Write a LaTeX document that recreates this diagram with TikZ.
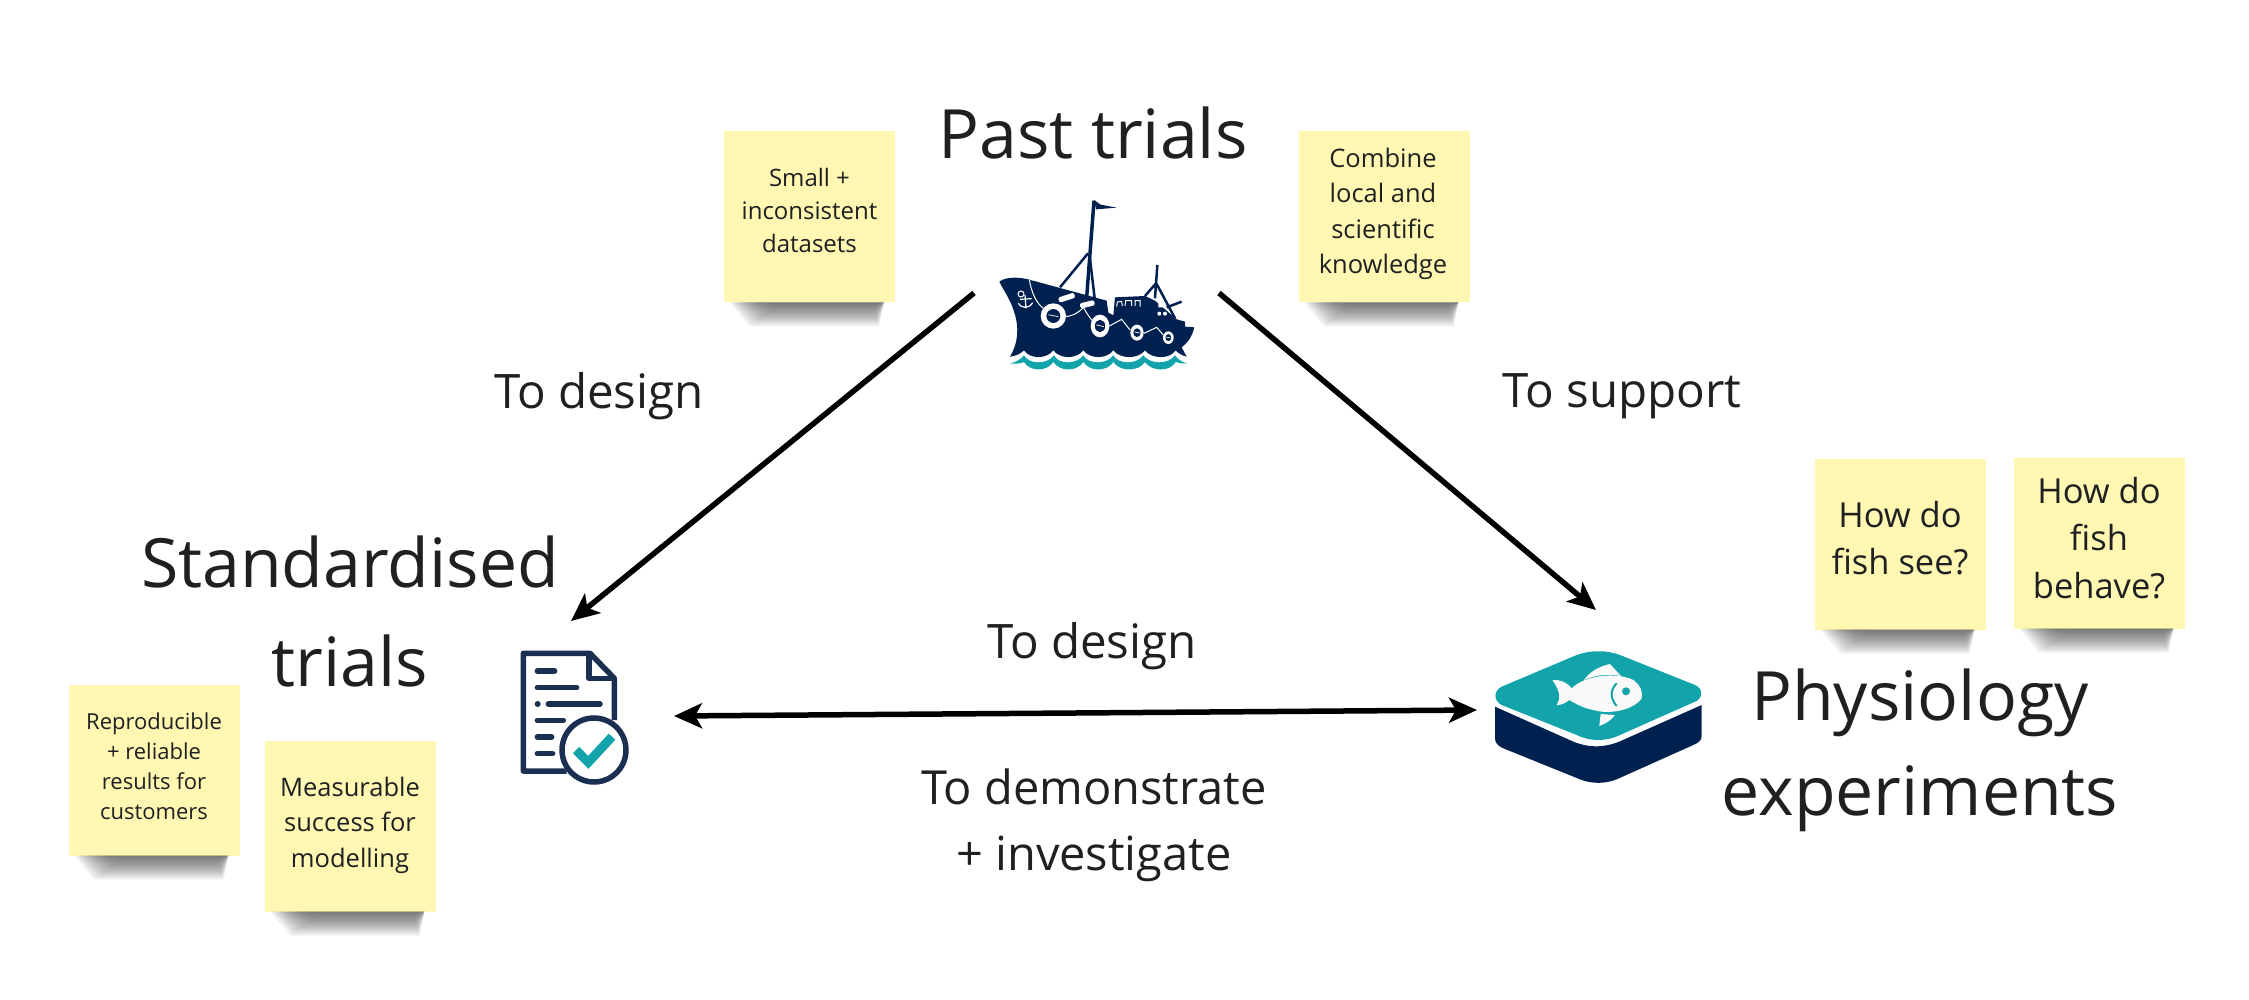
\documentclass[tikz,border=0pt]{standalone}
\usepackage{fontspec}
\setmainfont{Open Sans}
\usetikzlibrary{calc, arrows.meta}
\definecolor{navy}{HTML}{00204F}
\definecolor{teal2}{HTML}{12A4AA}
\definecolor{docblue}{HTML}{1B2F52}
\definecolor{notefill}{HTML}{FFF7B2}
\definecolor{inkdark}{HTML}{1E2022}
\newcommand\fsize[1]{\fontsize{#1}{#1}\selectfont}
\newcommand\noteshadow[1]{
  \foreach \i in {0,...,11}{
    \fill[black,opacity=0.06] ($(#1.south west)+(6+\i*2.5,0)$) -- ($(#1.south east)+(-11,0)$)
      -- ($(#1.south east)+(-16-\i*0.6,24-\i*2)$) -- ($(#1.south west)+(26+\i*2.5,24-\i*2)$) -- cycle;
  }
}
\tikzset{
  note/.style={fill=notefill,minimum width=171pt,minimum height=171pt,inner sep=0pt,outer sep=0pt},
  notetext/.style={align=center,text=inkdark,inner sep=0pt},
  title/.style={align=center,text=inkdark,font=\fsize{68}},
  linklabel/.style={align=center,text=inkdark,font=\fsize{47.5}},
  icon/.style={inner sep=0pt,outer sep=0pt},
  link/.style={line width=5.5pt,black,-{Stealth[length=28pt,width=25pt,inset=7pt]}},
  bilink/.style={line width=5.5pt,black,{Stealth[length=28pt,width=25pt,inset=7pt]}-{Stealth[length=28pt,width=25pt,inset=7pt]}},
}
\begin{document}
\begin{tikzpicture}[x=1pt,y=-1pt]
\useasboundingbox (0,0) rectangle (2249,1000);

% icon boxes, the arrows end on them
\node[icon,minimum width=245pt,minimum height=150pt] (ship) at (1096.5,293) {};
\node[icon,minimum width=206pt,minimum height=190pt] (report) at (571,716) {};
\node[icon,minimum width=238pt,minimum height=200pt] (fish) at (1596,710) {};

% ship
\begin{scope}[shift={(950,170)},scale=1/3]
  \fill[navy] (148,335) .. controls (170,318) and (215,320) .. (260,335) -- (470,392) -- (475,428) -- (490,436)
    -- (495,382) -- (585,378) -- (615,392) -- (680,448) -- (705,455) -- (705,470) -- (733,472)
    .. controls (725,505) and (710,520) .. (695,532) -- (710,560)
    .. controls (695,556) and (685,550) .. (677,541) .. controls (660,568) and (605,568) .. (585,541)
    .. controls (565,568) and (510,568) .. (490,541) .. controls (470,568) and (420,568) .. (400,541)
    .. controls (380,568) and (330,568) .. (310,541) .. controls (290,568) and (240,568) .. (222,541)
    .. controls (212,552) and (195,558) .. (180,560) .. controls (205,520) and (208,470) .. (192,425)
    .. controls (182,390) and (160,360) .. (148,335) -- cycle;
  \draw[navy,line width=3.5pt] (432,92) -- (410,382);
  \draw[navy,line width=2.5pt] (414,250) -- (330,352) (418,250) -- (434,385);
  \fill[navy] (432,90) -- (452,104) -- (500,113) -- (438,118) -- cycle;
  \draw[navy,line width=2.5pt] (622,285) -- (615,385) (618,340) -- (585,378) (620,342) -- (675,445) (650,412) -- (695,395);
  \fill[white] (625,390) -- (650,412) -- (625,412) -- cycle;
  \fill[white] (236,322) -- (256,325) -- (252,332) -- (240,330) -- cycle;
  \foreach \bx/\by/\brx/\bry in {310/438/38/38, 450/468/28/34, 561/488/20/24, 655/503/16/19}{
    \fill[white] (\bx,\by) ellipse ({\brx} and {\bry});
    \fill[navy] (\bx,\by) ellipse ({\brx*0.55} and {\bry*0.55});
    \draw[white,line width=0.7pt] (\bx-\brx*0.4,\by-\bry*0.1) -- (\bx+\brx*0.4,\by+\bry*0.05);
  }
  \draw[white,line width=1pt] (238,330) .. controls (245,370) and (260,400) .. (280,415)
    (340,440) .. controls (365,440) and (385,430) .. (400,412) .. controls (410,430) and (420,445) .. (430,455)
    (478,468) -- (515,448) -- (540,480) (582,490) -- (620,472) -- (640,495);
  \fill[white,rotate around={18:(350,383)},rounded corners=2pt] (325,375) rectangle (375,391);
  \fill[white,rotate around={14:(412,403)},rounded corners=2pt] (390,395) rectangle (434,411);
  \foreach \dx in {628,645}{\fill[white] (\dx,431) circle (6);}
  \draw[white,line width=1pt] (500,410) -- (502,396) -- (515,394) -- (517,408) (525,408) -- (527,392) -- (545,392) -- (545,408) (555,408) -- (555,392) -- (570,392) -- (570,410);
  % anchor
  \draw[white,line width=1.2pt] (225,375) -- (228,415) (210,388) -- (245,386) (205,400) .. controls (210,412) and (235,420) .. (248,398);
  \draw[white,line width=1pt] (213,372) circle (9);
  % waves
  \fill[teal2] (180,580) .. controls (195,578) and (210,570) .. (222,556)
    \foreach \wx in {222,310,400,490,585}{
      .. controls (\wx+15,584) and (\wx+70,584) .. (\wx+90,556) }
    -- (675,556) .. controls (685,570) and (700,578) .. (712,580)
    .. controls (695,582) and (685,578) .. (677,576) .. controls (660,606) and (605,606) .. (585,576)
    .. controls (565,606) and (510,606) .. (490,576) .. controls (470,606) and (420,606) .. (400,576)
    .. controls (380,606) and (330,606) .. (310,576) .. controls (290,606) and (240,606) .. (222,576)
    .. controls (210,582) and (195,582) .. (180,580) -- cycle;
\end{scope}

% report
\begin{scope}[shift={(480,620)},scale=1/3]
  \draw[docblue,line width=5.5pt,line join=round] (260,453) -- (130,453) -- (130,100) -- (330,100) -- (403,175) -- (403,300);
  \draw[docblue,line width=5.5pt,line join=round] (327,100) -- (327,175) -- (403,175);
  \draw[docblue,line width=5.5pt,line cap=round] (172,153) -- (224,153) (172,203) -- (290,203) (205,252) -- (360,252)
    (172,301) -- (250,301) (172,351) -- (215,351) (172,401) -- (218,401);
  \fill[docblue] (173,252) circle (9);
  \draw[docblue,line width=5.5pt,fill=white] (342,390) circle (96);
  \draw[teal2,line width=9pt] (288,390) -- (325,427) -- (396,350);
\end{scope}

% fish
\begin{scope}[shift={(1470,630)},scale=1/3]
  \fill[navy] (75,230) -- (75,325) .. controls (75,340) and (85,348) .. (100,355) -- (330,448)
    .. controls (365,462) and (405,462) .. (440,448) -- (670,345) .. controls (690,336) and (695,330) .. (695,315)
    -- (695,225) -- (470,325) .. controls (410,355) and (360,355) .. (310,335) -- cycle;
  \fill[teal2] (95,170) -- (320,75) .. controls (360,60) and (410,60) .. (450,75) -- (675,165)
    .. controls (700,175) and (700,205) .. (675,215) -- (450,315) .. controls (410,335) and (360,335) .. (320,315)
    -- (95,225) .. controls (70,212) and (70,182) .. (95,170) -- cycle;
  \fill[white!96!gray] (247,150) .. controls (265,148) and (290,155) .. (305,175) .. controls (345,135) and (440,125) .. (490,150)
    .. controls (510,165) and (520,185) .. (515,205) .. controls (490,240) and (420,255) .. (370,240)
    .. controls (340,235) and (315,220) .. (298,210) .. controls (285,220) and (275,225) .. (260,225)
    .. controls (272,205) and (272,185) .. (247,150) -- cycle;
  \fill[white!96!gray] (342,150) .. controls (360,125) and (385,110) .. (420,102) -- (453,138) .. controls (415,130) and (375,135) .. (342,150) -- cycle;
  \fill[white!96!gray] (392,252) -- (435,255) .. controls (425,270) and (405,282) .. (388,288) -- cycle;
  \fill[teal2] (468,184) circle (12);
  \draw[teal2,line width=2pt] (440,160) .. controls (420,180) and (420,205) .. (440,228);
\end{scope}

% arrows
\draw[link] (ship.west) -- (report.north);
\draw[link] (ship.east) -- (fish.north);
\draw[bilink] (report.east) -- (fish.west);

% titles
\node[title] (pasttitle) at (1093,133) {Past trials};
\node[title] (stdtitle) at (350,611) {Standardised\\[31pt]trials};
\node[title] (phystitle) at (1920,750) {Physiology\\[27pt]experiments};

% labels
\node[linklabel] (designleft) at (599,396) {To design};
\node[linklabel] (support) at (1622,396) {To support};
\node[linklabel] (designmid) at (1092,646) {To design};
\node[linklabel,font=\fsize{47}] (demo) at (1094,825) {To demonstrate\\[19pt]+ investigate};

% sticky notes
\node[note] (small) at (809.5,217) {};
\node[note] (combine) at (1384,217) {};
\node[note] (see) at (1900,544) {};
\node[note] (behave) at (2099,543) {};
\node[note] (repro) at (154,770) {};
\node[note] (measure) at (350,826) {};
\foreach \n in {small,combine,see,behave,repro,measure}{\noteshadow{\n}}

\node[notetext,font=\fsize{24}] (smalltext) at ($(small)+(0,-6)$) {Small +\\[9pt]inconsistent\\[9pt]datasets};
\node[notetext,font=\fsize{25.5}] (combinetext) at ($(combine)+(-1,-3)$) {Combine\\[10pt]local and\\[10pt]scientific\\[10pt]knowledge};
\node[notetext,font=\fsize{34.5}] (seetext) at ($(see)+(0,-6)$) {How do\\[13pt]fish see?};
\node[notetext,font=\fsize{34.5}] (behavetext) at ($(behave)+(0,-5)$) {How do\\[13pt]fish\\[13pt]behave?};
\node[notetext,font=\fsize{22}] (reprotext) at ($(repro)+(0,-4)$) {Reproducible\\[8pt]+ reliable\\[8pt]results for\\[8pt]customers};
\node[notetext,font=\fsize{25.5}] (measuretext) at ($(measure)+(0,-1)$) {Measurable\\[10pt]success for\\[10pt]modelling};

\end{tikzpicture}
\end{document}
